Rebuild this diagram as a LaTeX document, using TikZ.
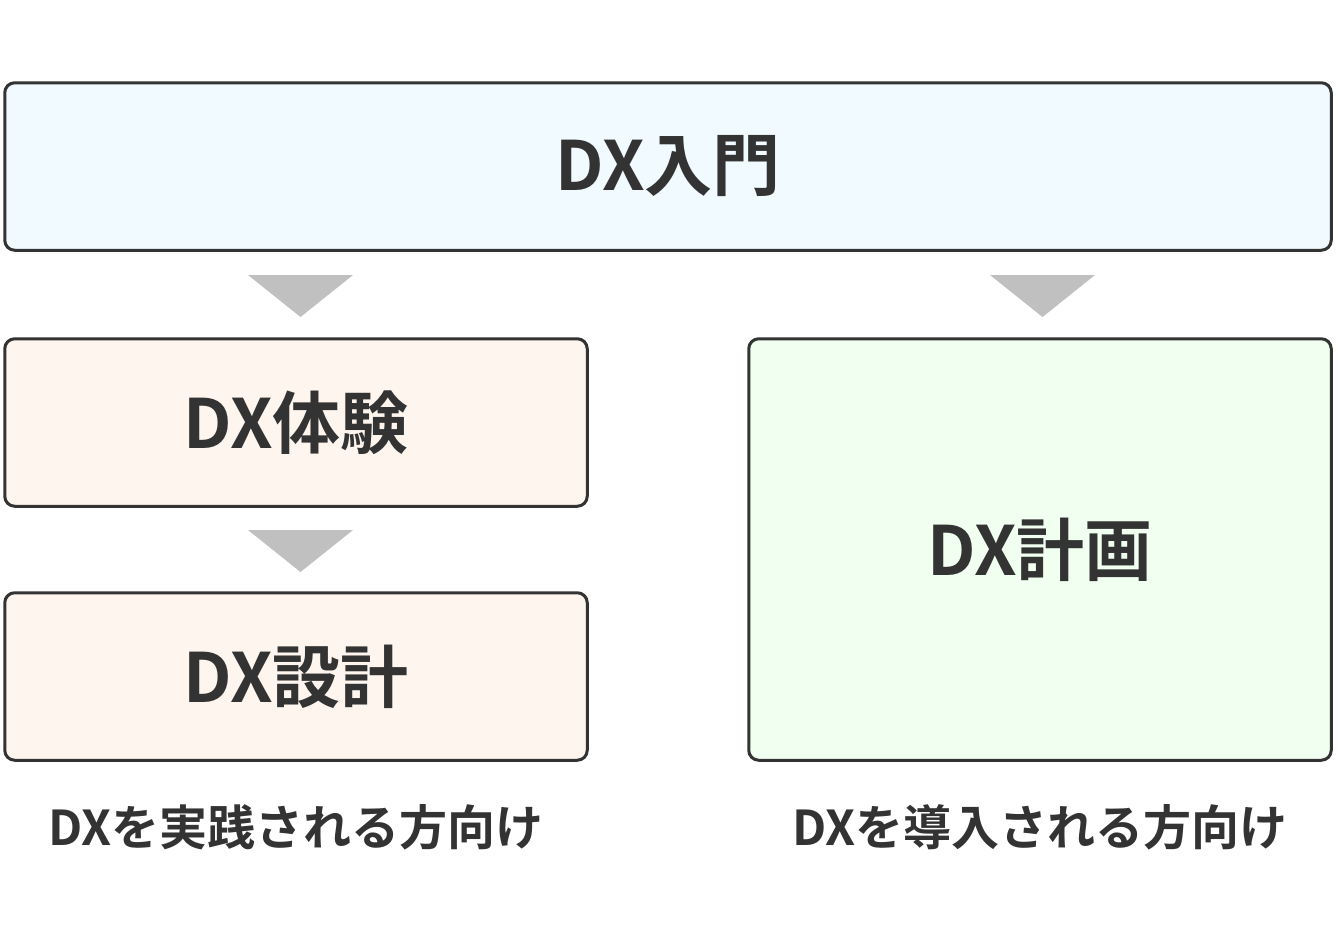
\documentclass[tikz,border=0pt]{standalone}
\usepackage{fontspec}
\setmainfont{Noto Sans CJK JP Bold}
\definecolor{ink}{HTML}{333333}
\definecolor{fblue}{RGB}{240,250,255}
\definecolor{fpeach}{RGB}{254,245,239}
\definecolor{fgreen}{RGB}{240,255,240}
\definecolor{tri}{RGB}{192,192,192}
\begin{document}
\begin{tikzpicture}[x=0.5pt,y=-0.5pt,
  box/.style={draw=ink,line width=1.5pt,rounded corners=5pt,inner sep=0pt,text=ink,font=\fontsize{34}{40}\selectfont},
  lbl/.style={text=ink,inner sep=0pt,font=\fontsize{24}{29}\selectfont},
  tri/.style={fill=tri,draw=none}]
\useasboundingbox (0,0) rectangle (1338,932);
\node[box,fill=fblue,minimum width=1326.5pt*0.5,minimum height=167.5pt*0.5] (intro) at (668,166.5) {DX入門};
\node[box,fill=fpeach,minimum width=582.5pt*0.5,minimum height=167.5pt*0.5] (exp) at (296,422.5) {DX体験};
\node[box,fill=fpeach,minimum width=582.5pt*0.5,minimum height=167.5pt*0.5] (des) at (296,676.5) {DX設計};
\node[box,fill=fgreen,minimum width=582.5pt*0.5,minimum height=421.5pt*0.5] (plan) at (1040,549.5) {DX計画};
\node[lbl] (l1) at (296,827) {DXを実践される方向け};
\node[lbl] (l2) at (1040,827) {DXを導入される方向け};
\fill[tri] (248,275) -- (353,275) -- (300.5,317) -- cycle;
\fill[tri] (990,275) -- (1095,275) -- (1042.5,317) -- cycle;
\fill[tri] (248,530) -- (353,530) -- (300.5,572) -- cycle;
\end{tikzpicture}
\end{document}
